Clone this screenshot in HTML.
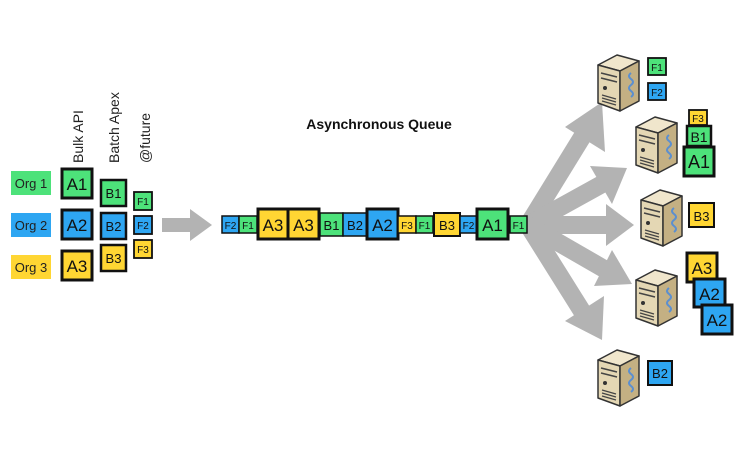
<!DOCTYPE html>
<html><head><meta charset="utf-8"><style>
body{margin:0;background:#fff;}
svg text{font-family:"Liberation Sans",sans-serif;}
</style></head><body>
<svg width="750" height="450" viewBox="0 0 750 450" xmlns="http://www.w3.org/2000/svg">
<defs>
<g id="srv">
  <polygon points="2,12 21,2 43,8 24,18" fill="#f0e6cc" stroke="#333" stroke-width="1.5" stroke-linejoin="round"/>
  <polygon points="2,12 24,18 24,58 2,50" fill="#e4d7b4" stroke="#333" stroke-width="1.5" stroke-linejoin="round"/>
  <polygon points="24,18 43,8 43,48 24,58" fill="#c4b083" stroke="#333" stroke-width="1.5" stroke-linejoin="round"/>
  <line x1="5" y1="20" x2="21" y2="24" stroke="#444" stroke-width="1.5"/>
  <line x1="5" y1="25" x2="21" y2="29" stroke="#444" stroke-width="1.5"/>
  <circle cx="9" cy="35" r="2" fill="#333"/>
  <line x1="6" y1="42" x2="20" y2="46" stroke="#444" stroke-width="1.2"/>
  <line x1="6" y1="45" x2="20" y2="49" stroke="#444" stroke-width="1.2"/>
  <line x1="6" y1="48" x2="20" y2="52" stroke="#444" stroke-width="1.2"/>
  <path d="M35,20 q-4,3 0,6 q4,3 0,6 q-4,3 0,6 q4,3 0,6" fill="none" stroke="#5b8fd0" stroke-width="2"/>
</g>
</defs>

<rect x="11" y="171" width="40" height="24" fill="#4de27a"/>
<text x="31" y="188" font-size="13" text-anchor="middle" fill="#222">Org 1</text>
<rect x="11" y="213" width="40" height="24" fill="#2ea6f2"/>
<text x="31" y="230" font-size="13" text-anchor="middle" fill="#222">Org 2</text>
<rect x="11" y="255" width="40" height="24" fill="#ffd633"/>
<text x="31" y="272" font-size="13" text-anchor="middle" fill="#222">Org 3</text>

<text transform="translate(83,163) rotate(-90)" font-size="14" fill="#222">Bulk API</text>
<text transform="translate(119,163) rotate(-90)" font-size="14" fill="#222">Batch Apex</text>
<text transform="translate(150,163) rotate(-90)" font-size="14" fill="#222">@future</text>

<g stroke="#111">
<rect x="62" y="169" width="30" height="29" fill="#4de27a" stroke-width="3"/>
<rect x="62" y="210" width="30" height="29" fill="#2ea6f2" stroke-width="3"/>
<rect x="62" y="251" width="30" height="29" fill="#ffd633" stroke-width="3"/>
</g>
<g font-size="17" text-anchor="middle" fill="#111">
<text x="77" y="190">A1</text><text x="77" y="231">A2</text><text x="77" y="272">A3</text>
</g>
<g stroke="#111" stroke-width="2.5">
<rect x="101" y="180" width="25" height="26" fill="#4de27a"/>
<rect x="101" y="213" width="25" height="26" fill="#2ea6f2"/>
<rect x="101" y="245" width="25" height="26" fill="#ffd633"/>
</g>
<g font-size="13" text-anchor="middle" fill="#111">
<text x="113.5" y="198">B1</text><text x="113.5" y="231">B2</text><text x="113.5" y="263">B3</text>
</g>
<g stroke="#111" stroke-width="1.8">
<rect x="134" y="192" width="18" height="18" fill="#4de27a"/>
<rect x="134" y="216" width="18" height="18" fill="#2ea6f2"/>
<rect x="134" y="240" width="18" height="18" fill="#ffd633"/>
</g>
<g font-size="10" text-anchor="middle" fill="#111">
<text x="143" y="205">F1</text><text x="143" y="229">F2</text><text x="143" y="253">F3</text>
</g>

<polygon points="162,218 190,218 190,209 212,225 190,241 190,232 162,232" fill="#b3b3b3"/>

<text x="379" y="129" font-size="14" font-weight="bold" text-anchor="middle" fill="#111">Asynchronous Queue</text>

<g fill="#b3b3b3">
<polygon points="524,214 526,236 534,236 533,208"/>
<g stroke="#b3b3b3" stroke-width="18" stroke-linecap="butt">
<line x1="528" y1="225" x2="584" y2="134"/>
<line x1="528" y1="225" x2="604" y2="183"/>
<line x1="528" y1="225" x2="608" y2="225"/>
<line x1="528" y1="225" x2="606" y2="270"/>
<line x1="528" y1="225" x2="585" y2="316"/>
</g>
<polygon points="602,102 605,152 565,127"/>
<polygon points="627,168 612,204 590,166"/>
<polygon points="634,225 606,246 606,204"/>
<polygon points="632,284 594,286 612,250"/>
<polygon points="602,340 565,321 604,296"/>
</g>

<g stroke="#111" stroke-width="1.5">
<rect x="222" y="216" width="17" height="17" fill="#2ea6f2"/>
<rect x="239" y="216" width="18" height="17" fill="#4de27a"/>
<rect x="258" y="209" width="30" height="30" fill="#ffd633" stroke-width="3"/>
<rect x="288" y="209" width="31" height="30" fill="#ffd633" stroke-width="3"/>
<rect x="320" y="213" width="23" height="23" fill="#4de27a"/>
<rect x="343" y="213" width="24" height="23" fill="#2ea6f2"/>
<rect x="367" y="209" width="31" height="30" fill="#2ea6f2" stroke-width="3"/>
<rect x="398" y="216" width="18" height="17" fill="#ffd633"/>
<rect x="416" y="216" width="17" height="17" fill="#4de27a"/>
<rect x="434" y="213" width="26" height="23" fill="#ffd633" stroke-width="2"/>
<rect x="460" y="216" width="17" height="17" fill="#2ea6f2"/>
<rect x="477" y="209" width="31" height="30" fill="#4de27a" stroke-width="3"/>
<rect x="510" y="216" width="17" height="17" fill="#4de27a"/>
</g>
<g text-anchor="middle" fill="#111">
<text x="230.5" y="229" font-size="10">F2</text>
<text x="248" y="229" font-size="10">F1</text>
<text x="273" y="231" font-size="17">A3</text>
<text x="303.5" y="231" font-size="17">A3</text>
<text x="331.5" y="230" font-size="13">B1</text>
<text x="355" y="230" font-size="13">B2</text>
<text x="382.5" y="231" font-size="17">A2</text>
<text x="407" y="229" font-size="10">F3</text>
<text x="424.5" y="229" font-size="10">F1</text>
<text x="447" y="230" font-size="13">B3</text>
<text x="468.5" y="229" font-size="10">F2</text>
<text x="492.5" y="231" font-size="17">A1</text>
<text x="518.5" y="229" font-size="10">F1</text>
</g>

<use href="#srv" x="596" y="53"/>
<use href="#srv" x="634" y="115"/>
<use href="#srv" x="639" y="188"/>
<use href="#srv" x="634" y="268"/>
<use href="#srv" x="596" y="348"/>

<g stroke="#111" stroke-width="1.8">
<rect x="648" y="58" width="18" height="17" fill="#4de27a"/>
<rect x="648" y="83" width="18" height="17" fill="#2ea6f2"/>
<rect x="689" y="110" width="18" height="15" fill="#ffd633"/>
<rect x="687" y="126" width="24" height="20" fill="#4de27a" stroke-width="2.5"/>
<rect x="684" y="147" width="30" height="29" fill="#4de27a" stroke-width="3"/>
<rect x="689" y="203" width="25" height="24" fill="#ffd633" stroke-width="2"/>
<rect x="687" y="253" width="30" height="29" fill="#ffd633" stroke-width="3"/>
<rect x="694" y="279" width="31" height="28" fill="#2ea6f2" stroke-width="3"/>
<rect x="702" y="305" width="30" height="29" fill="#2ea6f2" stroke-width="3"/>
<rect x="648" y="361" width="24" height="24" fill="#2ea6f2" stroke-width="2"/>
</g>
<g text-anchor="middle" fill="#111">
<text x="657" y="71" font-size="10">F1</text>
<text x="657" y="96" font-size="10">F2</text>
<text x="698" y="122" font-size="10">F3</text>
<text x="699" y="142" font-size="14">B1</text>
<text x="699" y="168" font-size="18">A1</text>
<text x="701.5" y="221" font-size="13">B3</text>
<text x="702" y="274" font-size="17">A3</text>
<text x="709.5" y="300" font-size="17">A2</text>
<text x="717" y="326" font-size="17">A2</text>
<text x="660" y="378" font-size="13">B2</text>
</g>
</svg>
</body></html>
